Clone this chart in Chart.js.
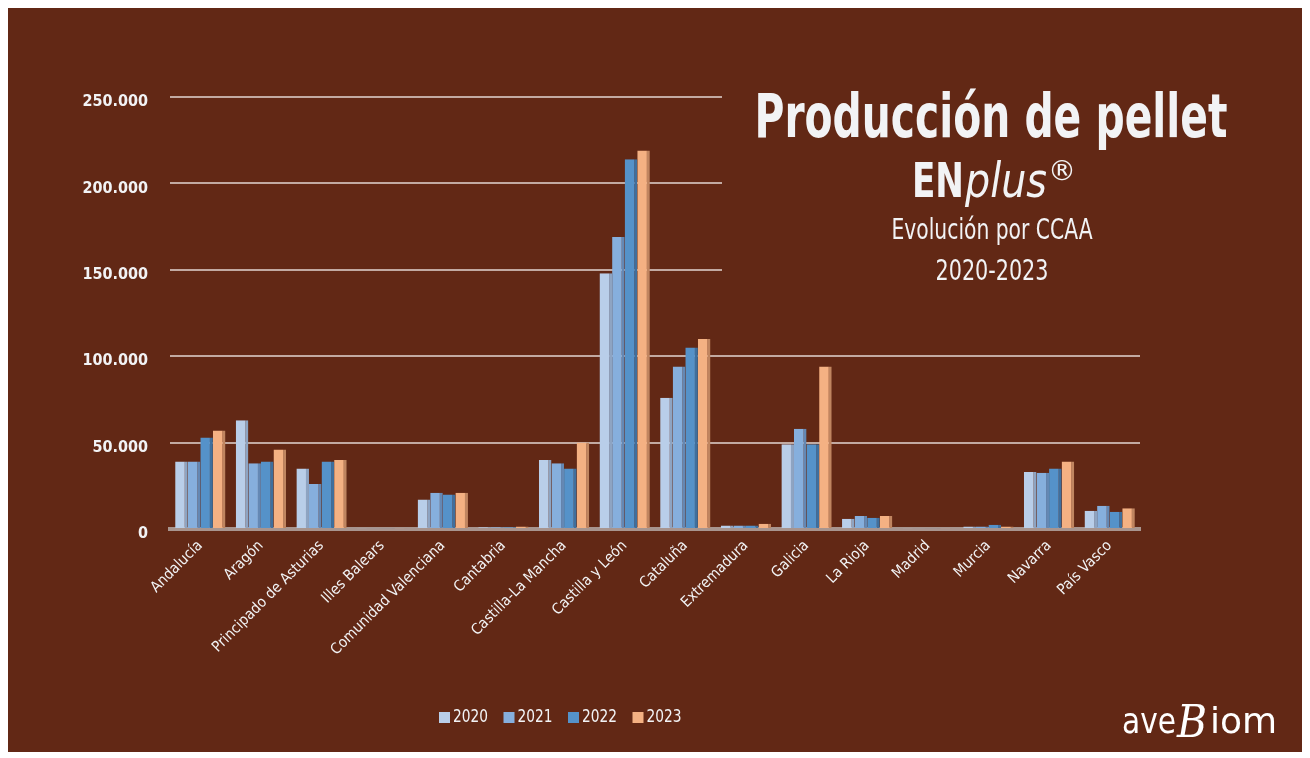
<!DOCTYPE html>
<html>
<head>
<meta charset="utf-8">
<script src="https://cdn.jsdelivr.net/npm/chart.js@4.4.0/dist/chart.umd.min.js"></script>
<style>
  html, body { margin: 0; padding: 0; background: #ffffff; }
  #wrap { position: relative; width: 1310px; height: 758px; }
</style>
</head>
<body>
<div id="wrap"><canvas id="pelletChart" width="1310" height="758"></canvas></div>
<script>
// Comunidades autónomas
const regions = ['Andalucía', 'Aragón', 'Principado de Asturias', 'Illes Balears', 'Comunidad Valenciana',
    'Cantabria', 'Castilla-La Mancha', 'Castilla y León', 'Cataluña', 'Extremadura', 'Galicia',
    'La Rioja', 'Madrid', 'Murcia', 'Navarra', 'País Vasco'];

// toneladas producidas
const prod2020 = [39000, 63000, 35000, 500, 17000, 1000, 40000, 148000, 76000, 2000, 49000, 6000, 500, 1500, 33000, 10500];
const prod2021 = [39000, 38000, 26000, 500, 21000, 1000, 38000, 169000, 94000, 2000, 58000, 7500, 500, 1500, 32500, 13500];
const prod2022 = [53000, 39000, 39000, 500, 20000, 1000, 35000, 214000, 105000, 2000, 49000, 6500, 500, 2500, 35000, 10000];
const prod2023 = [57000, 46000, 40000, 500, 21000, 1500, 50000, 219000, 110000, 3000, 94000, 7500, 500, 1500, 39000, 12000];

const years = ['2020', '2021', '2022', '2023'];
const yTicks = [0, 50000, 100000, 150000, 200000, 250000];

const BG = '#622815';
const condensed = "'Liberation Sans Narrow', 'DejaVu Sans Condensed', 'Roboto', sans-serif";

function fmt(v) {
    return String(v).replace(/\B(?=(\d{3})+(?!\d))/g, '.');
}

// fondo marrón con marco blanco
const backdrop = {
    id: 'backdrop',
    beforeDraw(chart) {
        const ctx = chart.ctx;
        ctx.save();
        ctx.fillStyle = '#ffffff';
        ctx.fillRect(0, 0, chart.width, chart.height);
        ctx.fillStyle = BG;
        ctx.fillRect(8, 8, chart.width - 16, chart.height - 14);
        ctx.restore();
    }
};

// título, leyenda y logo
const overlay = {
    id: 'overlay',
    afterDraw(chart) {
        const ctx = chart.ctx;
        ctx.save();
        // tapa las líneas de cuadrícula detrás del título
        ctx.fillStyle = BG;
        ctx.fillRect(722, 60, 430, 238);

        ctx.fillStyle = '#f2f3f5';
        ctx.textAlign = 'center';
        ctx.textBaseline = 'alphabetic';
        ctx.font = "bold 60px 'DejaVu Sans Condensed', sans-serif";
        ctx.fillText('Producción de pellet', 991, 137, 473);

        // ENplus®
        ctx.textAlign = 'left';
        ctx.font = "bold 48px 'DejaVu Sans Condensed', sans-serif";
        const enW = Math.min(ctx.measureText('EN').width, 52);
        ctx.fillText('EN', 912, 197, 52);
        ctx.font = "italic 48px 'DejaVu Sans Condensed', sans-serif";
        ctx.fillText('plus', 912 + enW + 1, 197, 82);
        ctx.font = "28px 'DejaVu Sans', sans-serif";
        ctx.fillText('®', 1048, 180);

        ctx.textAlign = 'center';
        ctx.font = "28px 'DejaVu Sans Condensed', sans-serif";
        ctx.fillText('Evolución por CCAA', 992, 239, 201);
        ctx.fillText('2020-2023', 992, 280, 113);

        // leyenda
        const ds = chart.data.datasets;
        ctx.textAlign = 'left';
        ctx.textBaseline = 'middle';
        ctx.font = '17px ' + condensed;
        for (let i = 0; i < ds.length; i++) {
            const x = 439 + i * 64.5;
            ctx.fillStyle = ds[i].backgroundColor;
            ctx.fillRect(x, 712, 11, 11);
            ctx.fillStyle = '#f2f3f5';
            ctx.fillText(ds[i].label, x + 14, 718, 35);
        }

        // logo aveBiom
        ctx.fillStyle = '#ffffff';
        ctx.textBaseline = 'alphabetic';
        ctx.font = "36px 'DejaVu Sans', sans-serif";
        ctx.fillText('ave', 1122, 733, 54);
        ctx.font = "italic 44px 'DejaVu Serif', serif";
        ctx.fillText('B', 1177, 737, 30);
        ctx.font = "36px 'DejaVu Sans', sans-serif";
        ctx.fillText('iom', 1210, 733, 76);
        ctx.restore();
    }
};

const shades = [
    { fill: '#b9cee9', side: '#8ea4c2' },
    { fill: '#86afdd', side: '#6488b4' },
    { fill: '#5592c9', side: '#3f6f9d' },
    { fill: '#f4b183', side: '#c08560' }
];
const series = [prod2020, prod2021, prod2022, prod2023];

const ctx = document.getElementById('pelletChart').getContext('2d');
const pelletChart = new Chart(ctx, {
    type: 'bar',
    data: {
        labels: regions,
        datasets: series.map((vals, i) => ({
            label: years[i],
            data: vals,
            backgroundColor: shades[i].fill,
            borderColor: shades[i].side,
            borderWidth: { top: 0, right: 3, bottom: 0, left: 0 },
            borderSkipped: false,
            barPercentage: 1.0,
            categoryPercentage: 0.83
        }))
    },
    options: {
        responsive: false,
        animation: false,
        layout: {
            padding: { top: 97, left: 20, right: 170, bottom: 0 }
        },
        plugins: {
            legend: { display: false },
            tooltip: { enabled: false }
        },
        scales: {
            y: {
                min: 0,
                max: 250000,
                afterFit(scale) { scale.width = 150; },
                afterBuildTicks(scale) { scale.ticks = yTicks.map(v => ({ value: v })); },
                ticks: {
                    color: '#f2f3f5',
                    padding: 22,
                    labelOffset: 5,
                    font: { family: condensed, size: 16, weight: 'bold' },
                    callback: v => fmt(v)
                },
                grid: {
                    color: ctx2 => ctx2.tick && ctx2.tick.value === 0 ? 'rgba(0,0,0,0)' : '#c2aaa2',
                    lineWidth: 2,
                    drawTicks: false
                },
                border: { display: false }
            },
            x: {
                afterFit(scale) { scale.height = 229; },
                ticks: {
                    color: '#f2f3f5',
                    minRotation: 45,
                    maxRotation: 45,
                    padding: 8,
                    autoSkip: false,
                    font: { family: condensed, size: 15 }
                },
                grid: { display: false, drawTicks: false },
                border: { display: true, color: '#a8958f', width: 4 }
            }
        }
    },
    plugins: [backdrop, overlay]
});
</script>
</body>
</html>
